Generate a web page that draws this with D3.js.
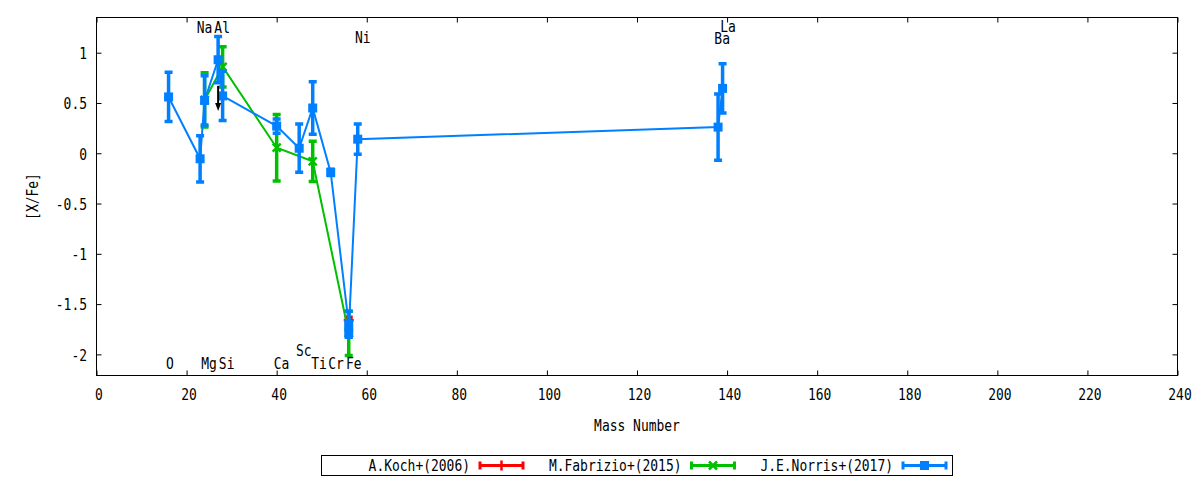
<!DOCTYPE html>
<html>
<head>
<meta charset="utf-8">
<script src="https://cdn.jsdelivr.net/npm/d3@7"></script>
<style>
	body { margin: 0; background: #fff; }
	text { font-family: 'DejaVu Sans Mono', monospace; font-size: 16px; fill: #000; }
</style>
</head>
<body>
<svg id="chart" width="1200" height="480"></svg>
<script>
// A.Koch+(2006)
const kochX = [56];
const kochY = [-1.66];
const kochErr = [0.03];

// M.Fabrizio+(2015)
const fabrizioX = [24, 28, 40, 48, 56];
const fabrizioY = [0.53, 0.86, 0.055, -0.08, -1.79];
const fabrizioErr = [0.27, 0.2, 0.33, 0.2, 0.22];

// J.E.Norris+(2017)
const norrisX = [16, 23, 24, 27, 28, 40, 45, 48, 52, 56, 56, 58, 138, 139];
const norrisY = [0.56, -0.055, 0.525, 0.93, 0.57, 0.27, 0.05, 0.45, -0.19, -1.7, -1.78, 0.14, 0.26, 0.645];
const norrisErr = [0.245, 0.23, 0.245, 0.23, 0.245, 0.07, 0.24, 0.26, 0.03, 0.13, 0.05, 0.15, 0.33, 0.245];

// black upper-limit arrow at Al
const limitX = [27];
const limitFrom = [0.67];
const limitTo = [0.42];

const elements = ['O', 'Na', 'Mg', 'Al', 'Si', 'Ca', 'Sc', 'Ti', 'Cr', 'Fe', 'Ni', 'Ba', 'La'];
const elementX = [16.3, 24, 25, 27.9, 28.9, 41.1, 46, 49.4, 53.2, 57.1, 59.1, 138.9, 140.2];
const elementY = [-2.09, 1.25, -2.09, 1.25, -2.09, -2.09, -1.96, -2.09, -2.09, -2.09, 1.15, 1.14, 1.265];

const xTicks = [0, 20, 40, 60, 80, 100, 120, 140, 160, 180, 200, 220, 240];
const yTicks = [-2, -1.5, -1, -0.5, 0, 0.5, 1];

const legendNames = ['A.Koch+(2006)', 'M.Fabrizio+(2015)', 'J.E.Norris+(2017)'];

const plotLeft = 96.5,
	plotRight = 1177.5,
	plotTop = 17.5,
	plotBottom = 375.5,
	charWidth = 7.8;

const svg = d3.select('#chart');

const x = d3.scaleLinear().domain([0, 240]).range([plotLeft, plotRight]);
const y = d3.scaleLinear().domain([-2.21, 1.35]).range([plotBottom, plotTop]);

// squeeze the mono font to the narrow gnuplot look
const squeeze = sel =>
	sel.each(function () {
		const t = d3.select(this);
		const n = t.text().length;
		if (n) t.attr('textLength', n * charWidth).attr('lengthAdjust', 'spacingAndGlyphs');
	});

// axes, ticks point inward and are mirrored
const xAxis = svg
	.append('g')
	.attr('transform', `translate(0, ${plotBottom})`)
	.call(d3.axisBottom(x).tickValues(xTicks).tickSize(-5).tickSizeOuter(0).tickFormat(d => String(d)));
xAxis.selectAll('text').attr('y', 19).attr('dy', '0.36em').attr('x', 2).call(squeeze);

svg
	.append('g')
	.attr('transform', `translate(0, ${plotTop})`)
	.call(d3.axisTop(x).tickValues(xTicks).tickSize(-5).tickSizeOuter(0).tickFormat(''));

const yAxis = svg
	.append('g')
	.attr('transform', `translate(${plotLeft}, 0)`)
	.call(d3.axisLeft(y).tickValues(yTicks).tickSize(-5).tickSizeOuter(0).tickFormat(d => String(d)));
yAxis.selectAll('text').attr('x', -9.5).attr('dy', '0.36em').call(squeeze);

svg
	.append('g')
	.attr('transform', `translate(${plotRight}, 0)`)
	.call(d3.axisRight(y).tickValues(yTicks).tickSize(-5).tickSizeOuter(0).tickFormat(''));

svg.selectAll('.domain').remove();

svg
	.append('rect')
	.attr('x', plotLeft)
	.attr('y', plotTop)
	.attr('width', plotRight - plotLeft)
	.attr('height', plotBottom - plotTop)
	.attr('fill', 'none')
	.attr('stroke', '#000');

svg
	.append('text')
	.attr('x', (plotLeft + plotRight) / 2)
	.attr('y', 425)
	.attr('dy', '0.36em')
	.attr('text-anchor', 'middle')
	.text('Mass Number')
	.call(squeeze);

svg
	.append('text')
	.attr('transform', `translate(32, ${(plotTop + plotBottom) / 2}) rotate(-90)`)
	.attr('dy', '0.36em')
	.attr('text-anchor', 'middle')
	.text('[X/Fe]')
	.call(squeeze);

// point markers
const marker = (g, type, color, cx, cy) => {
	if (type === 'square') {
		g.append('rect')
			.attr('x', cx - 4.5)
			.attr('y', cy - 4.5)
			.attr('width', 9)
			.attr('height', 9)
			.attr('fill', color);
	} else if (type === 'cross') {
		g.append('path')
			.attr('d', `M${cx - 4},${cy - 4}L${cx + 4},${cy + 4}M${cx - 4},${cy + 4}L${cx + 4},${cy - 4}`)
			.attr('stroke', color)
			.attr('stroke-width', 2.5);
	} else {
		g.append('path')
			.attr('d', `M${cx - 5},${cy}L${cx + 5},${cy}M${cx},${cy - 5}L${cx},${cy + 5}`)
			.attr('stroke', color)
			.attr('stroke-width', 2.5);
	}
};

const drawSeries = (xs, ys, errs, color, type) => {
	const pts = xs.map((d, i) => ({ x: d, y: ys[i], e: errs[i] }));
	const g = svg.append('g');

	g.append('path')
		.datum(pts)
		.attr('d', d3.line(d => x(d.x), d => y(d.y)))
		.attr('fill', 'none')
		.attr('stroke', color)
		.attr('stroke-width', 2);

	pts.forEach(d => {
		const cx = x(d.x),
			y0 = y(d.y - d.e),
			y1 = y(d.y + d.e);
		g.append('path')
			.attr('d', `M${cx},${y0}L${cx},${y1}M${cx - 4},${y0}L${cx + 4},${y0}M${cx - 4},${y1}L${cx + 4},${y1}`)
			.attr('fill', 'none')
			.attr('stroke', color)
			.attr('stroke-width', 3.5);
		marker(g, type, color, cx, y(d.y));
	});
};

const colors = ['#ff0000', '#00c000', '#0080ff'];
const types = ['plus', 'cross', 'square'];

drawSeries(kochX, kochY, kochErr, colors[0], types[0]);
drawSeries(fabrizioX, fabrizioY, fabrizioErr, colors[1], types[1]);
drawSeries(norrisX, norrisY, norrisErr, colors[2], types[2]);

// upper limit
limitX.forEach((d, i) => {
	const cx = x(d),
		y0 = y(limitFrom[i]),
		y1 = y(limitTo[i]);
	svg.append('line')
		.attr('x1', cx)
		.attr('x2', cx)
		.attr('y1', y0)
		.attr('y2', y1 - 6)
		.attr('stroke', '#000')
		.attr('stroke-width', 2);
	svg.append('path')
		.attr('d', `M${cx - 3},${y1 - 8}L${cx + 3},${y1 - 8}L${cx},${y1}Z`)
		.attr('fill', '#000');
});

// element names
svg
	.append('g')
	.selectAll('text')
	.data(elements)
	.join('text')
	.attr('x', (d, i) => x(elementX[i]))
	.attr('y', (d, i) => y(elementY[i]))
	.attr('dy', '0.36em')
	.attr('text-anchor', 'middle')
	.text(d => d)
	.call(squeeze);

// key
const key = svg.append('g');
key.append('rect')
	.attr('x', 321.5)
	.attr('y', 455.5)
	.attr('width', 631)
	.attr('height', 20)
	.attr('fill', 'none')
	.attr('stroke', '#000');

legendNames.forEach((name, i) => {
	const textEnd = 470 + i * 211.5,
		sx = textEnd + 10,
		sy = 465.5;
	key.append('text')
		.attr('x', textEnd)
		.attr('y', sy)
		.attr('dy', '0.36em')
		.attr('text-anchor', 'end')
		.text(name)
		.call(squeeze);
	key.append('path')
		.attr('d', `M${sx},${sy}L${sx + 43},${sy}M${sx},${sy - 4}L${sx},${sy + 4}M${sx + 43},${sy - 4}L${sx + 43},${sy + 4}`)
		.attr('fill', 'none')
		.attr('stroke', colors[i])
		.attr('stroke-width', 3);
	marker(key, types[i], colors[i], sx + 21.5, sy);
});
</script>
</body>
</html>
